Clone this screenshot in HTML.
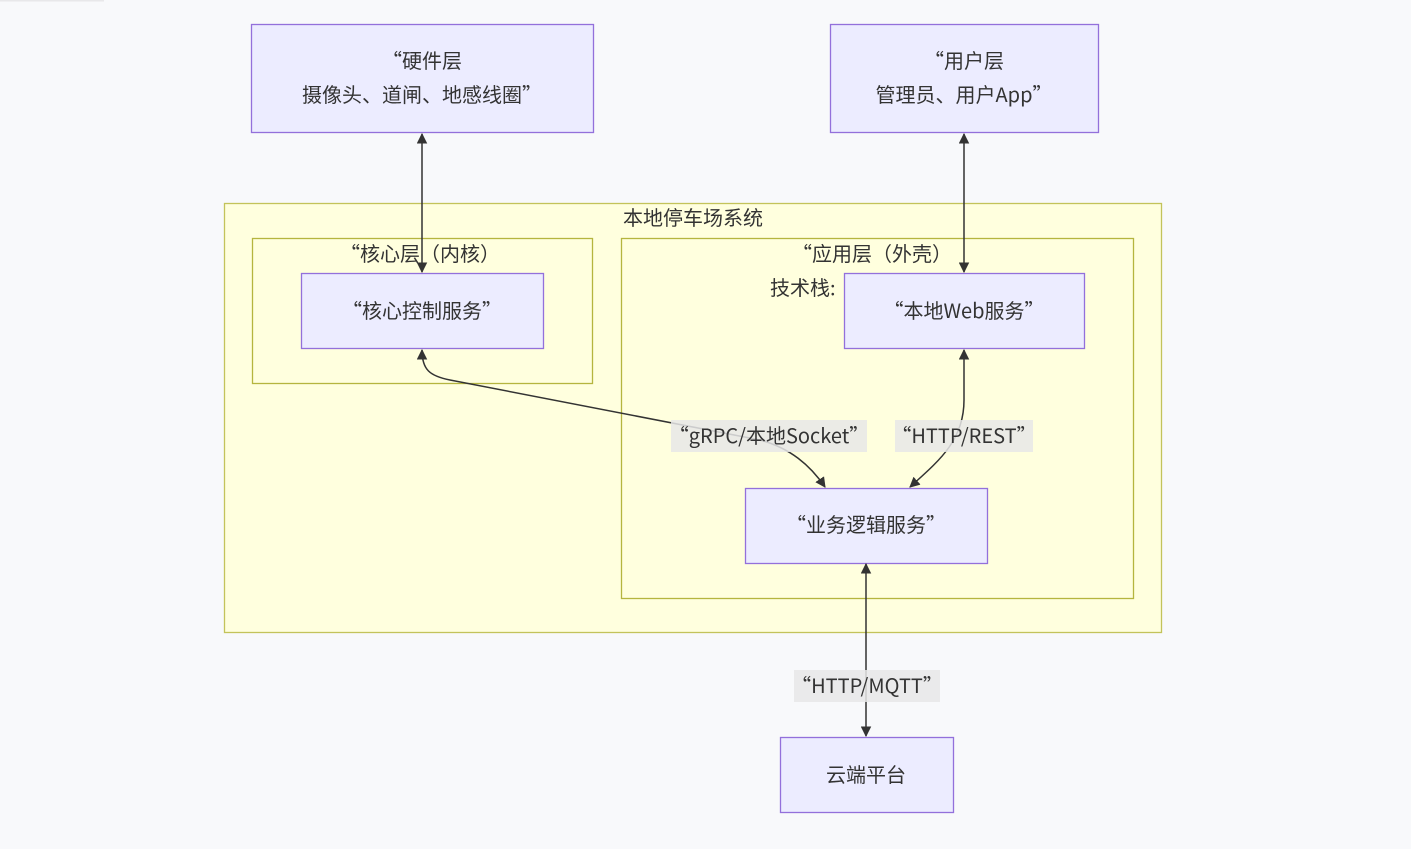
<!DOCTYPE html>
<html><head><meta charset="utf-8"><style>
html,body{margin:0;padding:0;background:#f8f9fb;}
svg{display:block;}
text{font-family:"Noto Sans CJK SC","Liberation Sans",sans-serif;font-size:20px;fill:#333;}
</style></head><body>
<svg width="1411" height="849" viewBox="0 0 1411 849" xmlns="http://www.w3.org/2000/svg">
<defs>
<marker id="a" viewBox="0 0 10 10" refX="9" refY="5" markerWidth="7" markerHeight="7" orient="auto-start-reverse"><path d="M0,0 L10,5 L0,10 z" fill="#333"/></marker>
</defs>
<rect x="0" y="0" width="104" height="1.5" fill="#e8e8ea"/>
<rect x="224.5" y="203.5" width="937" height="429" fill="#ffffde" stroke="#c3c35a" stroke-width="1.3"/>
<text x="693" y="225" text-anchor="middle">本地停车场系统</text>
<rect x="252.5" y="238.5" width="340" height="145" fill="#ffffde" stroke="#b5b53f" stroke-width="1.3"/>
<text x="420" y="261" text-anchor="middle">“核心层（内核）</text>
<rect x="621.5" y="238.5" width="512" height="360" fill="#ffffde" stroke="#b5b53f" stroke-width="1.3"/>
<text x="872" y="261" text-anchor="middle">“应用层（外壳）</text>
<text x="770" y="295">技术栈:</text>
<g fill="#ececff" stroke="#9370db" stroke-width="1.3">
<rect x="251.5" y="24.5" width="342" height="108"/>
<rect x="830.5" y="24.5" width="268" height="108"/>
<rect x="301.5" y="273.5" width="242" height="75"/>
<rect x="844.5" y="273.5" width="240" height="75"/>
<rect x="745.5" y="488.5" width="242" height="75"/>
<rect x="780.5" y="737.5" width="173" height="75"/>
</g>
<text x="422" y="68" text-anchor="middle">“硬件层</text>
<text x="422" y="102" text-anchor="middle">摄像头、道闸、地感线圈”</text>
<text x="964" y="68" text-anchor="middle">“用户层</text>
<text x="964" y="102" text-anchor="middle">管理员、用户App”</text>
<text x="422" y="318" text-anchor="middle">“核心控制服务”</text>
<text x="964" y="318" text-anchor="middle">“本地Web服务”</text>
<text x="866" y="532" text-anchor="middle">“业务逻辑服务”</text>
<text x="866" y="782" text-anchor="middle">云端平台</text>
<g stroke="#333" stroke-width="1.5" fill="none">
<line x1="422" y1="134" x2="422" y2="272" marker-start="url(#a)" marker-end="url(#a)"/>
<line x1="964" y1="134" x2="964" y2="272" marker-start="url(#a)" marker-end="url(#a)"/>
<line x1="866" y1="564" x2="866" y2="736" marker-start="url(#a)" marker-end="url(#a)"/>
<path d="M422,350 C422,370 430,376 450,380 L760,440 C790,448 810,465 825,487" marker-start="url(#a)" marker-end="url(#a)"/>
<path d="M964,350 L964,400 C964,440 940,460 910,487" marker-start="url(#a)" marker-end="url(#a)"/>
</g>
<rect x="671" y="420" width="196" height="32" fill="#e8e8e8" opacity="0.85"/>
<text x="769" y="443" text-anchor="middle">“gRPC/本地Socket”</text>
<rect x="895" y="420" width="138" height="32" fill="#e8e8e8" opacity="0.85"/>
<text x="964" y="443" text-anchor="middle">“HTTP/REST”</text>
<rect x="794" y="670" width="146" height="32" fill="#e8e8e8" opacity="0.85"/>
<text x="867" y="693" text-anchor="middle">“HTTP/MQTT”</text>
</svg>
</body></html>
